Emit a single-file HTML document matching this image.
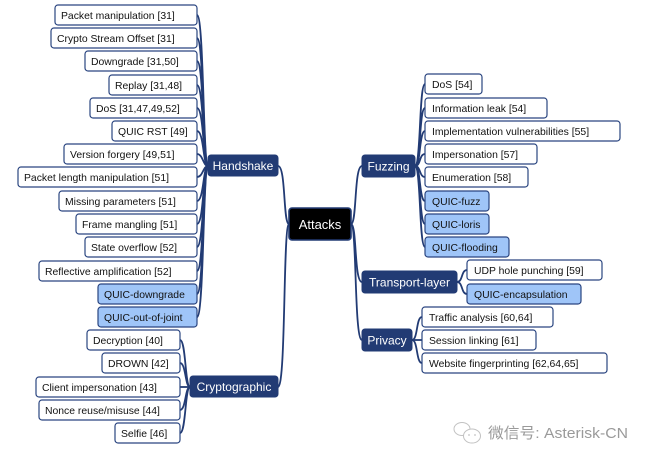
<!DOCTYPE html>
<html><head><meta charset="utf-8"><style>
html,body{margin:0;padding:0;background:#fff;}
svg{display:block;}
.l{fill:#fff;stroke:#2a4580;stroke-width:1.2;}
.b{fill:#9fc5f8;stroke:#2a4580;stroke-width:1.2;}
.t{font-family:"Liberation Sans",Arial,sans-serif;font-size:10.4px;fill:#111;}
.p{fill:#223b74;stroke:#223b74;stroke-width:1;}
.pt{font-family:"Liberation Sans",Arial,sans-serif;font-size:12px;fill:#fff;text-anchor:middle;}
.c{fill:none;stroke:#223b74;stroke-width:1.8;}
</style></head><body>
<svg width="650" height="462" viewBox="0 0 650 462" xmlns="http://www.w3.org/2000/svg">
<g class="c">
<path d="M197,15 C204,15 203,166 208,166"/>
<path d="M197,38 C204,38 203,166 208,166"/>
<path d="M197,61 C204,61 203,166 208,166"/>
<path d="M197,85 C204,85 203,166 208,166"/>
<path d="M197,108 C204,108 203,166 208,166"/>
<path d="M197,131 C204,131 203,166 208,166"/>
<path d="M197,154 C203,154 203,166 208,166"/>
<path d="M197,177 C203,177 203,166 208,166"/>
<path d="M197,201 C204,201 203,166 208,166"/>
<path d="M197,224 C204,224 203,166 208,166"/>
<path d="M197,247 C204,247 203,166 208,166"/>
<path d="M197,271 C204,271 203,166 208,166"/>
<path d="M197,294 C204,294 203,166 208,166"/>
<path d="M197,317 C204,317 203,166 208,166"/>
<path d="M180,340 C186,340 185,387 190,387"/>
<path d="M180,363 C186,363 185,387 190,387"/>
<path d="M180,387 L190,387"/>
<path d="M180,410 C186,410 185,387 190,387"/>
<path d="M180,433 C186,433 185,387 190,387"/>
<path d="M415,166 C421,166 419,84 425,84"/>
<path d="M415,166 C421,166 419,108 425,108"/>
<path d="M415,166 C421,166 419,131 425,131"/>
<path d="M415,166 C421,166 419,154 425,154"/>
<path d="M415,166 C421,166 419,177 425,177"/>
<path d="M415,166 C421,166 419,201 425,201"/>
<path d="M415,166 C421,166 419,224 425,224"/>
<path d="M415,166 C421,166 419,247 425,247"/>
<path d="M457,282 C463,282 461,270 467,270"/>
<path d="M457,282 C463,282 461,294 467,294"/>
<path d="M412,340 C418,340 416,317 422,317"/>
<path d="M412,340 L422,340"/>
<path d="M412,340 C418,340 416,363 422,363"/>
<path d="M289,224 C283,224 286,166 278,166"/>
<path d="M289,224 C283,224 286,387 278,387"/>
<path d="M351,224 C357,224 354,166 362,166"/>
<path d="M351,224 C357,224 354,282 362,282"/>
<path d="M351,224 C357,224 354,340 362,340"/>
</g>

<rect class="l" x="55" y="5" width="142" height="20" rx="3"/><text class="t" x="61" y="19">Packet manipulation [31]</text>
<rect class="l" x="51" y="28" width="146" height="20" rx="3"/><text class="t" x="57" y="42">Crypto Stream Offset [31]</text>
<rect class="l" x="85" y="51" width="112" height="20" rx="3"/><text class="t" x="91" y="65">Downgrade [31,50]</text>
<rect class="l" x="109" y="75" width="88" height="20" rx="3"/><text class="t" x="115" y="89">Replay [31,48]</text>
<rect class="l" x="90" y="98" width="107" height="20" rx="3"/><text class="t" x="96" y="112">DoS [31,47,49,52]</text>
<rect class="l" x="112" y="121" width="85" height="20" rx="3"/><text class="t" x="118" y="135">QUIC RST [49]</text>
<rect class="l" x="64" y="144" width="133" height="20" rx="3"/><text class="t" x="70" y="158">Version forgery [49,51]</text>
<rect class="l" x="18" y="167" width="179" height="20" rx="3"/><text class="t" x="24" y="181">Packet length manipulation [51]</text>
<rect class="l" x="59" y="191" width="138" height="20" rx="3"/><text class="t" x="65" y="205">Missing parameters [51]</text>
<rect class="l" x="76" y="214" width="121" height="20" rx="3"/><text class="t" x="82" y="228">Frame mangling [51]</text>
<rect class="l" x="85" y="237" width="112" height="20" rx="3"/><text class="t" x="91" y="251">State overflow [52]</text>
<rect class="l" x="39" y="261" width="158" height="20" rx="3"/><text class="t" x="45" y="275">Reflective amplification [52]</text>
<rect class="b" x="98" y="284" width="99" height="20" rx="3"/><text class="t" x="104" y="298">QUIC-downgrade</text>
<rect class="b" x="98" y="307" width="99" height="20" rx="3"/><text class="t" x="104" y="321">QUIC-out-of-joint</text>

<rect class="l" x="87" y="330" width="93" height="20" rx="3"/><text class="t" x="93" y="344">Decryption [40]</text>
<rect class="l" x="102" y="353" width="78" height="20" rx="3"/><text class="t" x="108" y="367">DROWN [42]</text>
<rect class="l" x="36" y="377" width="144" height="20" rx="3"/><text class="t" x="42" y="391">Client impersonation [43]</text>
<rect class="l" x="39" y="400" width="141" height="20" rx="3"/><text class="t" x="45" y="414">Nonce reuse/misuse [44]</text>
<rect class="l" x="115" y="423" width="65" height="20" rx="3"/><text class="t" x="121" y="437">Selfie [46]</text>

<rect class="l" x="425" y="74" width="57" height="20" rx="3"/><text class="t" x="432" y="88">DoS [54]</text>
<rect class="l" x="425" y="98" width="122" height="20" rx="3"/><text class="t" x="432" y="112">Information leak [54]</text>
<rect class="l" x="425" y="121" width="195" height="20" rx="3"/><text class="t" x="432" y="135">Implementation vulnerabilities [55]</text>
<rect class="l" x="425" y="144" width="112" height="20" rx="3"/><text class="t" x="432" y="158">Impersonation [57]</text>
<rect class="l" x="425" y="167" width="103" height="20" rx="3"/><text class="t" x="432" y="181">Enumeration [58]</text>
<rect class="b" x="425" y="191" width="64" height="20" rx="3"/><text class="t" x="432" y="205">QUIC-fuzz</text>
<rect class="b" x="425" y="214" width="64" height="20" rx="3"/><text class="t" x="432" y="228">QUIC-loris</text>
<rect class="b" x="425" y="237" width="84" height="20" rx="3"/><text class="t" x="432" y="251">QUIC-flooding</text>

<rect class="l" x="467" y="260" width="135" height="20" rx="3"/><text class="t" x="474" y="274">UDP hole punching [59]</text>
<rect class="b" x="467" y="284" width="114" height="20" rx="3"/><text class="t" x="474" y="298">QUIC-encapsulation</text>

<rect class="l" x="422" y="307" width="131" height="20" rx="3"/><text class="t" x="429" y="321">Traffic analysis [60,64]</text>
<rect class="l" x="422" y="330" width="114" height="20" rx="3"/><text class="t" x="429" y="344">Session linking [61]</text>
<rect class="l" x="422" y="353" width="185" height="20" rx="3"/><text class="t" x="429" y="367">Website fingerprinting [62,64,65]</text>

<rect class="p" x="208" y="155" width="70" height="21" rx="3"/><text class="pt" x="243" y="170">Handshake</text>
<rect class="p" x="190" y="376" width="88" height="21" rx="3"/><text class="pt" x="234" y="391">Cryptographic</text>
<rect class="p" x="362" y="155" width="53" height="22" rx="3"/><text class="pt" x="388.5" y="170.5">Fuzzing</text>
<rect class="p" x="362" y="271" width="95" height="22" rx="3"/><text class="pt" x="409.5" y="286.5">Transport-layer</text>
<rect class="p" x="362" y="329" width="50" height="22" rx="3"/><text class="pt" x="387" y="344.5">Privacy</text>

<rect x="289" y="208" width="62" height="32" rx="3" fill="#000" stroke="#223b74" stroke-width="1.6"/>
<text x="320" y="229" font-family="Liberation Sans, Arial, sans-serif" font-size="13px" fill="#fff" text-anchor="middle">Attacks</text>

<g fill="none" stroke="#c2c2c2" stroke-width="1">
<ellipse cx="462" cy="429" rx="8" ry="6.5"/>
<ellipse cx="472" cy="436" rx="8.5" ry="7" fill="#fff"/>
</g>
<circle cx="469" cy="435" r="0.9" fill="#c2c2c2"/>
<circle cx="475" cy="435" r="0.9" fill="#c2c2c2"/>
<text x="488" y="438" font-family="Liberation Sans, 'Noto Sans CJK SC', sans-serif" font-size="15px" fill="#9a9a9a" textLength="140" lengthAdjust="spacingAndGlyphs">微信号: Asterisk-CN</text>
</svg>
</body></html>
